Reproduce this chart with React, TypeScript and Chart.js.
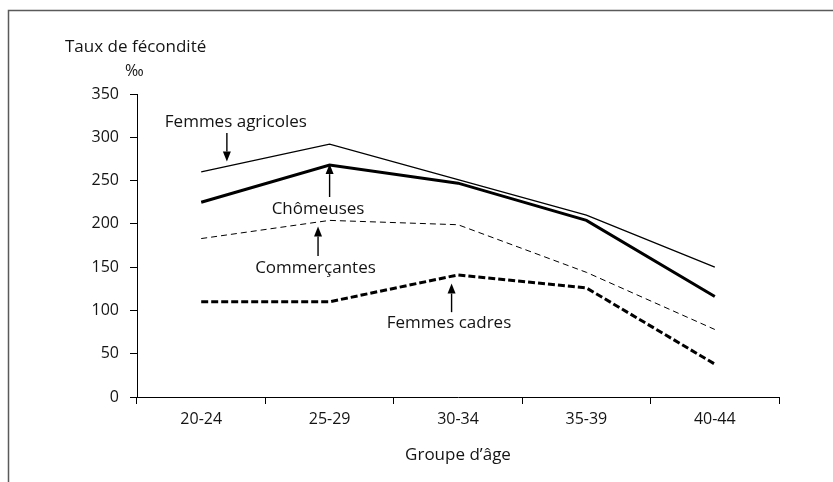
import React, { useEffect, useRef } from "react";
import { Chart, registerables } from "chart.js";

Chart.register(...registerables);

// ---- Data ----
const categories = ["20-24", "25-29", "30-34", "35-39", "40-44"];
const femmesAgricoles = [260, 292, 251, 210, 150];
const chomeuses = [225, 268, 247, 204, 116];
const commercantes = [183, 204, 199, 144, 78];
const femmesCadres = [110, 110, 141, 126, 38];

const yMin = 0;
const yMax = 350;
const yStep = 50;

const yTitle = "Taux de fécondité";
const yUnit = "‰";
const xTitle = "Groupe d’âge";

// annotation labels with arrows (data coordinates: category index, value)
const annotations = [
  { text: "Femmes agricoles", tx: 0.27, ty: 317, ax: 0.2, from: 305, to: 272 },
  { text: "Chômeuses", tx: 0.91, ty: 217, ax: 1.0, from: 231, to: 269 },
  { text: "Commerçantes", tx: 0.89, ty: 149, ax: 0.91, from: 163, to: 197 },
  { text: "Femmes cadres", tx: 1.93, ty: 85, ax: 1.95, from: 98, to: 131 },
];

const FONT = "'Open Sans', 'DejaVu Sans', sans-serif";
const TEXT = "#141414";

const overlayPlugin = {
  id: "overlay",
  beforeDraw(chart: any) {
    const { ctx, width, height } = chart;
    ctx.save();
    ctx.strokeStyle = "#5a5a5a";
    ctx.lineWidth = 1.5;
    ctx.beginPath();
    ctx.moveTo(8.5, height);
    ctx.lineTo(8.5, 10.5);
    ctx.lineTo(width, 10.5);
    ctx.stroke();
    ctx.restore();
  },
  afterDraw(chart: any) {
    const { ctx, chartArea } = chart;
    const xs = chart.scales.x;
    const ys = chart.scales.y;
    ctx.save();
    ctx.fillStyle = TEXT;
    ctx.textBaseline = "middle";
    ctx.font = `17px ${FONT}`;
    ctx.textAlign = "left";
    ctx.fillText(yTitle, chartArea.left - 72, chartArea.top - 47);
    ctx.font = `16px ${FONT}`;
    ctx.fillText(yUnit, chartArea.left - 12, chartArea.top - 23);

    ctx.textAlign = "center";
    ctx.font = `17px ${FONT}`;
    for (const a of annotations) {
      ctx.fillStyle = TEXT;
      ctx.fillText(a.text, xs.getPixelForValue(a.tx), ys.getPixelForValue(a.ty));
      const ax = xs.getPixelForValue(a.ax);
      const y0 = ys.getPixelForValue(a.from);
      const y1 = ys.getPixelForValue(a.to);
      const dir = y1 > y0 ? 1 : -1;
      const headLen = 10;
      ctx.strokeStyle = "#000";
      ctx.lineWidth = 1.4;
      ctx.beginPath();
      ctx.moveTo(ax, y0);
      ctx.lineTo(ax, y1 - dir * headLen);
      ctx.stroke();
      ctx.fillStyle = "#000";
      ctx.beginPath();
      ctx.moveTo(ax, y1);
      ctx.lineTo(ax - 4, y1 - dir * headLen);
      ctx.lineTo(ax + 4, y1 - dir * headLen);
      ctx.closePath();
      ctx.fill();
    }
    ctx.restore();
  },
};

export default function App() {
  const ref = useRef<HTMLCanvasElement | null>(null);

  useEffect(() => {
    if (!ref.current) return;
    const chart = new Chart(ref.current, {
      type: "line",
      data: {
        labels: categories,
        datasets: [
          {
            label: "Femmes agricoles",
            data: femmesAgricoles,
            borderColor: "#000",
            borderWidth: 1.3,
            pointRadius: 0,
            tension: 0,
            fill: false,
          },
          {
            label: "Chômeuses",
            data: chomeuses,
            borderColor: "#000",
            borderWidth: 3,
            pointRadius: 0,
            tension: 0,
            fill: false,
          },
          {
            label: "Commerçantes",
            data: commercantes,
            borderColor: "#000",
            borderWidth: 1,
            borderDash: [6, 4],
            pointRadius: 0,
            tension: 0,
            fill: false,
          },
          {
            label: "Femmes cadres",
            data: femmesCadres,
            borderColor: "#000",
            borderWidth: 3,
            borderDash: [7, 3],
            pointRadius: 0,
            tension: 0,
            fill: false,
          },
        ],
      },
      options: {
        responsive: false,
        animation: false,
        layout: { padding: { left: 66, top: 94, right: 54, bottom: 14 } },
        plugins: {
          legend: { display: false },
          tooltip: { enabled: false },
          title: { display: false },
        },
        scales: {
          x: {
            type: "category",
            offset: true,
            afterFit: (s: any) => {
              s.height = 71;
            },
            grid: {
              offset: true,
              drawOnChartArea: false,
              drawTicks: true,
              tickLength: 7,
              color: "#000",
              lineWidth: 1,
            },
            border: { display: true, color: "#000", width: 1 },
            ticks: {
              color: TEXT,
              font: { family: FONT, size: 16 },
              padding: 6,
            },
            title: {
              display: true,
              text: xTitle,
              color: TEXT,
              font: { family: FONT, size: 17 },
              padding: { top: 0, bottom: 3 },
            },
          },
          y: {
            min: yMin,
            max: yMax,
            afterFit: (s: any) => {
              s.width = 71;
            },
            grid: {
              drawOnChartArea: false,
              drawTicks: true,
              tickLength: 7,
              color: "#000",
              lineWidth: 1,
            },
            border: { display: true, color: "#000", width: 1 },
            ticks: {
              stepSize: yStep,
              color: TEXT,
              font: { family: FONT, size: 16 },
              padding: 11,
            },
          },
        },
      },
      plugins: [overlayPlugin],
    });
    return () => chart.destroy();
  }, []);

  return (
    <div style={{ position: "fixed", left: 0, top: 0, width: 833, height: 482, background: "#fff" }}>
      <canvas ref={ref} width={833} height={482} style={{ display: "block", width: 833, height: 482 }} />
    </div>
  );
}
